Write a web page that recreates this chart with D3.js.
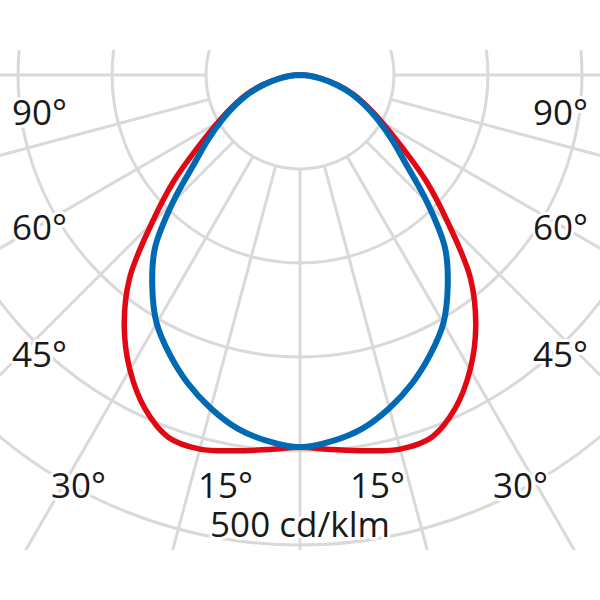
<!DOCTYPE html>
<html>
<head>
<meta charset="utf-8">
<script src="https://cdn.jsdelivr.net/npm/d3@7"></script>
<style>
  html, body { margin: 0; padding: 0; background: #fff; }
  svg { display: block; }
  text { font-family: "Open Sans", sans-serif; fill: #1a1a1a; }
</style>
</head>
<body>
<svg id="chart" width="600" height="600"></svg>
<script>
// Angles (degrees from nadir) and luminous intensity (cd/klm)
const angles      = [0, 5, 10, 15, 20, 25, 30, 35, 40, 45, 50, 55, 60, 65, 70, 75, 80, 85, 90];
const redValues   = [396, 400, 406, 412, 410, 391, 362, 326, 282, 223, 175, 131, 101, 79, 61, 42, 24, 10, 0];
const blueValues  = [396, 391, 382, 367, 349, 328, 305, 274, 240, 191, 147, 119, 96, 76, 58, 40, 23, 10, 0];
const ringValues  = [100, 200, 300, 400, 500];
const spokeAngles = [-90, -75, -60, -45, -30, -15, 0, 15, 30, 45, 60, 75, 90];
const leftLabels  = ["90°", "60°", "45°", "30°", "15°"];
const rightLabels = ["15°", "30°", "45°", "60°", "90°"];
const scaleLabel  = "500 cd/klm";

const svg = d3.select("#chart");
const cx = 300, cy = 75;
const r = d3.scaleLinear().domain([0, 500]).range([0, 470]);

svg.append("defs").append("clipPath").attr("id", "clip")
  .append("rect").attr("x", 0).attr("y", 50).attr("width", 600).attr("height", 500);

const g = svg.append("g").attr("transform", `translate(${cx},${cy})`);
const grid = g.append("g").attr("clip-path", "url(#clip)")
  .attr("transform", `translate(${-cx},${-cy})`)
  .append("g").attr("transform", `translate(${cx},${cy})`);

const gridColor = "#d9d9d9";
grid.selectAll("circle.ring").data(ringValues).join("circle")
  .attr("class", "ring")
  .attr("r", d => r(d))
  .attr("fill", "none").attr("stroke", gridColor).attr("stroke-width", 3);

// spokes from first ring outward; angle measured from downward vertical
const rad = d => d * Math.PI / 180;
grid.selectAll("line.spoke").data(spokeAngles).join("line")
  .attr("class", "spoke")
  .attr("x1", d => r(100) * Math.sin(rad(d)))
  .attr("y1", d => r(100) * Math.cos(rad(d)))
  .attr("x2", d => r(800) * Math.sin(rad(d)))
  .attr("y2", d => r(800) * Math.cos(rad(d)))
  .attr("stroke", gridColor).attr("stroke-width", 3);

// build full symmetric curve: left side (90 -> 0), then right side (5 -> 90)
function curvePoints(vals) {
  const pts = [];
  for (let i = angles.length - 1; i >= 0; i--) pts.push([Math.PI + rad(angles[i]), r(vals[i])]);
  for (let i = 1; i < angles.length; i++) pts.push([Math.PI - rad(angles[i]), r(vals[i])]);
  return pts;
}
const radial = d3.lineRadial().angle(d => d[0]).radius(d => d[1]).curve(d3.curveCatmullRom.alpha(0.5));

g.append("path").attr("d", radial(curvePoints(redValues)))
  .attr("fill", "none").attr("stroke", "#e30613").attr("stroke-width", 5.5).attr("stroke-linejoin", "round");
g.append("path").attr("d", radial(curvePoints(blueValues)))
  .attr("fill", "none").attr("stroke", "#0069b4").attr("stroke-width", 6).attr("stroke-linejoin", "round");

// labels with white halo
const labelPosL = [[12, 125], [12, 240], [12, 367], [51, 498], [198, 498]];
const labelPosR = [[350, 498], [493, 498], [533, 367], [533, 240], [533, 125]];
function addLabel(t, x, y, anchor) {
  svg.append("text").attr("x", x).attr("y", y).attr("text-anchor", anchor || "start")
    .attr("font-size", 35)
    .attr("stroke", "#fff").attr("stroke-width", 6).attr("paint-order", "stroke")
    .attr("stroke-linejoin", "round")
    .text(t);
}
leftLabels.forEach((t, i) => addLabel(t, labelPosL[i][0], labelPosL[i][1]));
rightLabels.forEach((t, i) => addLabel(t, labelPosR[i][0], labelPosR[i][1]));
addLabel(scaleLabel, 300, 537, "middle");
</script>
</body>
</html>
